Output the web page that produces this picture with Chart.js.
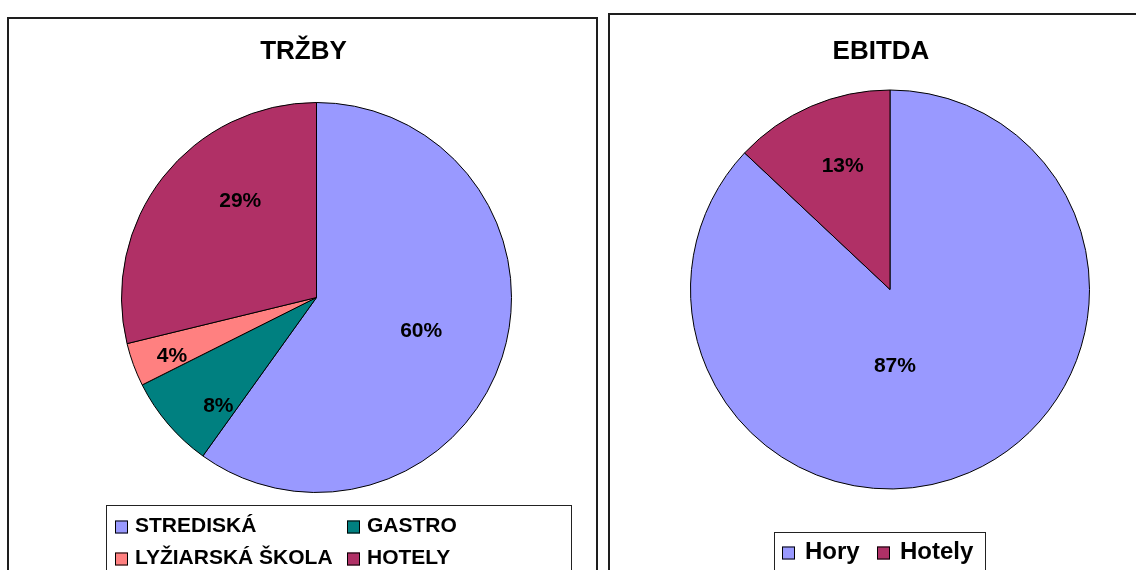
<!DOCTYPE html>
<html><head><meta charset="utf-8">
<script src="https://cdn.jsdelivr.net/npm/chart.js@4.4.1/dist/chart.umd.min.js"></script>
<style>
html,body{margin:0;padding:0;width:1136px;height:570px;overflow:hidden;background:#fff;}
.box{position:absolute;border:2px solid #1e1e1e;box-sizing:border-box;}
.wrap{position:absolute;}
</style></head><body>
<div class="box" style="left:7px;top:17px;width:591px;height:600px"></div>
<div class="box" style="left:608px;top:13px;width:600px;height:600px"></div>
<div class="wrap" style="left:8px;top:18px;width:588px;height:552px"><canvas id="c1"></canvas></div>
<div class="wrap" style="left:609px;top:14px;width:527px;height:556px"><canvas id="c2"></canvas></div>
<script>
// ---- data ----
const trzbyTitle = 'TRŽBY';
const trzbyLabels = ['STREDISKÁ', 'GASTRO', 'LYŽIARSKÁ ŠKOLA', 'HOTELY'];
const trzbyValues = [59.9, 7.7, 3.6, 28.8];
const ebitdaTitle = 'EBITDA';
const ebitdaLabels = ['Hory', 'Hotely'];
const ebitdaValues = [87, 13];

// ---- styles ----
const trzbyColors = ['#9999FF', '#008080', '#FF8080', '#B03066'];
const ebitdaColors = ['#9999FF', '#B03066'];
const FONT = '"Liberation Sans", Arial, sans-serif';

const titleSpan = {
  id: 'titleSpan',
  afterLayout(chart, args, opts) {
    const t = chart.titleBlock;
    if (t && opts.span) {
      t.left = opts.span[0];
      t.right = opts.span[1];
      t.width = opts.span[1] - opts.span[0];
    }
  }
};

const sliceLabels = {
  id: 'sliceLabels',
  afterDatasetsDraw(chart, args, opts) {
    const ctx = chart.ctx;
    const meta = chart.getDatasetMeta(0);
    const data = chart.data.datasets[0].data;
    const total = data.reduce((a, b) => a + b, 0);
    ctx.save();
    ctx.font = 'bold 21px ' + FONT;
    ctx.fillStyle = '#000';
    ctx.textAlign = 'center';
    ctx.textBaseline = 'middle';
    meta.data.forEach((arc, i) => {
      const p = arc.getProps(['x', 'y', 'startAngle', 'endAngle', 'outerRadius'], true);
      const a = p.startAngle + opts.along[i] * (p.endAngle - p.startAngle);
      const r = p.outerRadius * opts.radial[i];
      ctx.fillText(Math.round(data[i] / total * 100) + '%', p.x + Math.cos(a) * r, p.y + Math.sin(a) * r);
    });
    ctx.restore();
  }
};

const boxLegend = {
  id: 'boxLegend',
  afterDraw(chart, args, opts) {
    const ctx = chart.ctx;
    const labels = chart.data.labels;
    const colors = chart.data.datasets[0].backgroundColor;
    ctx.save();
    ctx.fillStyle = '#fff';
    ctx.fillRect(opts.box[0], opts.box[1], opts.box[2], opts.box[3]);
    ctx.strokeStyle = '#222';
    ctx.lineWidth = 1;
    ctx.strokeRect(opts.box[0] + 0.5, opts.box[1] + 0.5, opts.box[2], opts.box[3]);
    ctx.font = 'bold ' + opts.size + 'px ' + FONT;
    ctx.textBaseline = 'middle';
    ctx.textAlign = 'left';
    labels.forEach((lab, i) => {
      const [x, y] = opts.pos[i];
      const s = opts.sq;
      ctx.fillStyle = colors[i];
      ctx.fillRect(x, y - s / 2, s, s);
      ctx.strokeStyle = '#000';
      ctx.strokeRect(x + 0.5, y - s / 2 + 0.5, s - 1, s - 1);
      ctx.fillStyle = '#000';
      ctx.fillText(lab, x + opts.gap, y - 1);
    });
    ctx.restore();
  }
};

function makePie(id, title, labels, values, colors, pad, titlePad, span, lab, leg) {
  return new Chart(document.getElementById(id), {
    type: 'pie',
    data: { labels: labels, datasets: [{ data: values, backgroundColor: colors, borderColor: '#000', borderWidth: 1, hoverOffset: 0 }] },
    options: {
      responsive: true, maintainAspectRatio: false, animation: false,
      layout: { padding: pad },
      events: [],
      plugins: {
        title: { display: true, text: title, color: '#000', font: { family: FONT, size: 26, weight: 'bold', lineHeight: 1.2 }, padding: titlePad },
        legend: { display: false },
        tooltip: { enabled: false },
        titleSpan: { span: span },
        sliceLabels: lab,
        boxLegend: leg
      }
    },
    plugins: [titleSpan, sliceLabels, boxLegend]
  });
}

makePie('c1', trzbyTitle, trzbyLabels, trzbyValues, trzbyColors,
  { left: 113, right: 84, top: 0, bottom: 77 },
  { top: 18.4, bottom: 34.4 },
  [0, 591],
  { along: [0.5, 0.23, 0.355, 0.63], radial: [0.564, 0.752, 0.80, 0.63] },
  { box: [98, 487, 465, 80], pos: [[107, 509], [339, 509], [107, 541], [339, 541]], sq: 13, gap: 20, size: 21 });

makePie('c2', ebitdaTitle, ebitdaLabels, ebitdaValues, ebitdaColors,
  { left: 81, right: 46, top: 0, bottom: 80.5 },
  { top: 22.1, bottom: 22.2 },
  [0, 544],
  { along: [0.563, 0.55], radial: [0.387, 0.66] },
  { box: [165, 518, 211, 60], pos: [[173, 539], [268, 539]], sq: 13, gap: 23, size: 24 });
</script>
</body></html>
